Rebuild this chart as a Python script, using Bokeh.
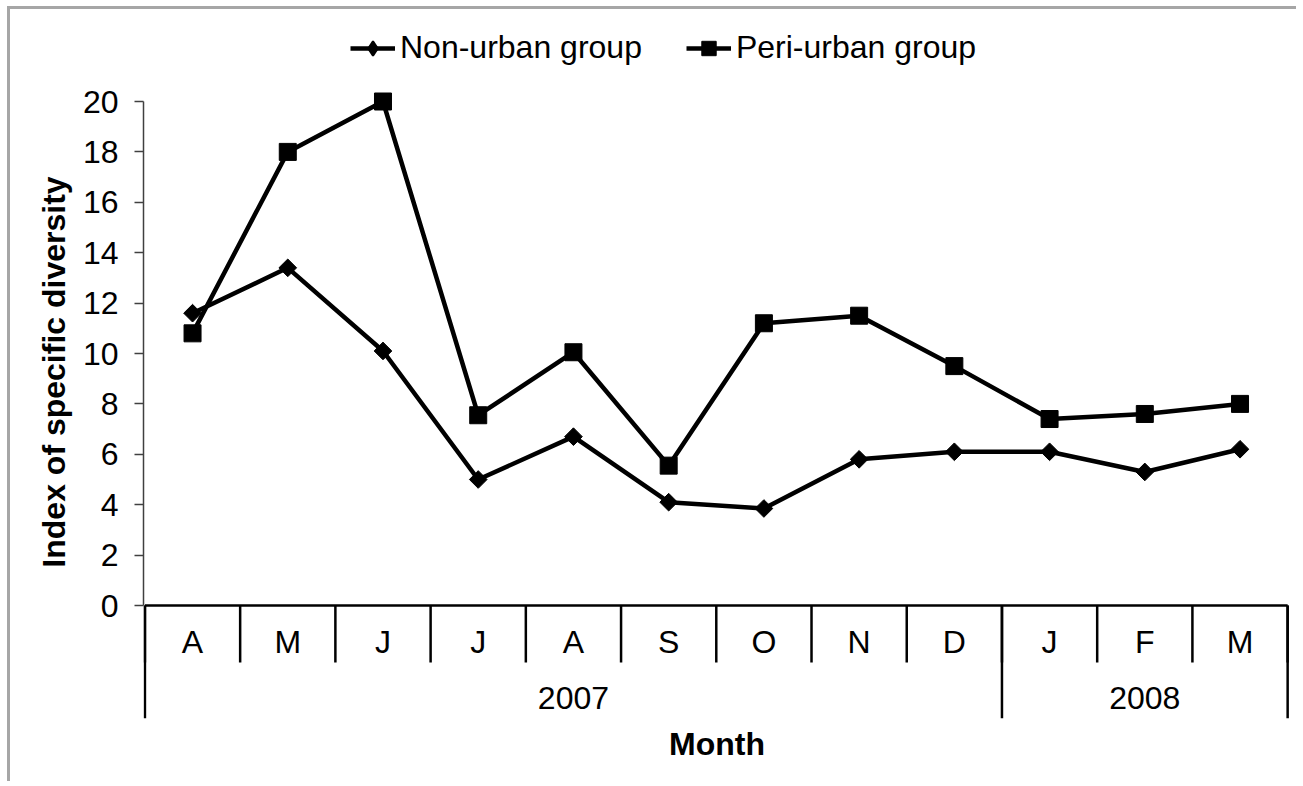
import math
from bokeh.plotting import figure
from bokeh.models import (Range1d, SingleIntervalTicker, FixedTicker, Legend, LegendItem,
                          ColumnDataSource)
from bokeh.embed import file_html
from bokeh.resources import INLINE
from bokeh.core.properties import value

# ---------------- data ----------------
months = ["A", "M", "J", "J", "A", "S", "O", "N", "D", "J", "F", "M"]
years = ["2007", "2008"]
months_per_year = [9, 3]
non_urban = [11.6, 13.4, 10.1, 5.0, 6.7, 4.1, 3.85, 5.8, 6.1, 6.1, 5.3, 6.2]
peri_urban = [10.8, 18.0, 20.0, 7.55, 10.05, 5.55, 11.2, 11.5, 9.5, 7.4, 7.6, 8.0]
y_tick_step = 2
y_max = 20

FONT = "Liberation Sans"
FS = "32px"

# ---------------- layout constants ----------------
MONTH_ROW = 2.26      # depth of the month row below zero (data units)
Y_START = -4.484
Y_END = 23.016
MONTH_LABEL_Y = -1.43
YEAR_LABEL_Y = -3.69

n = len(months)
xc = [i + 0.5 for i in range(n)]

p = figure(width=1289, height=775, output_backend="svg", toolbar_location=None,
           x_range=Range1d(-0.015, n + 0.03), y_range=Range1d(Y_START, Y_END),
           min_border_left=133, min_border_right=9, min_border_top=16, min_border_bottom=66,
           background_fill_color="white", border_fill_color="white")
p.styles = {"margin-left": "7px", "margin-top": "6px",
            "border-top": "3px solid #a6a6a6", "border-left": "3px solid #a6a6a6"}
p.outline_line_color = None
p.grid.visible = False

# y axis
ya = p.yaxis[0]
ya.bounds = (0, y_max)
ya.ticker = SingleIntervalTicker(interval=y_tick_step, num_minor_ticks=0)
ya.major_tick_out = 9
ya.major_tick_in = 0
ya.minor_tick_out = 0
ya.minor_tick_in = 0
ya.axis_line_color = "#404040"
ya.axis_line_width = 1.5
ya.major_tick_line_color = "#404040"
ya.major_tick_line_width = 1.5
ya.major_label_text_font = FONT
ya.major_label_text_font_size = FS
ya.major_label_text_color = "black"
ya.major_label_standoff = 16
ya.axis_label = "Index of specific diversity"
ya.axis_label_text_font = FONT
ya.axis_label_text_font_size = FS
ya.axis_label_text_font_style = "bold"
ya.axis_label_text_color = "black"
ya.axis_label_standoff = 8

# x axis: only the title
xa = p.xaxis[0]
xa.ticker = FixedTicker(ticks=[])
xa.axis_line_color = None
xa.major_tick_out = 0
xa.minor_tick_out = 0
xa.axis_label = "Month"
xa.axis_label_text_font = FONT
xa.axis_label_text_font_size = FS
xa.axis_label_text_font_style = "bold"
xa.axis_label_text_color = "black"
xa.axis_label_standoff = 7

# ---------------- category table ----------------
bounds_m = list(range(n + 1))
p.segment(x0=bounds_m, y0=[0] * len(bounds_m), x1=bounds_m, y1=[-MONTH_ROW] * len(bounds_m),
          line_color="black", line_width=2.5)
yb = [0]
for c in months_per_year:
    yb.append(yb[-1] + c)
p.segment(x0=yb, y0=[0] * len(yb), x1=yb, y1=[Y_START] * len(yb),
          line_color="black", line_width=2.5)
p.segment(x0=[0], y0=[0], x1=[n], y1=[0], line_color="black", line_width=2.5)

p.text(x=xc, y=[MONTH_LABEL_Y] * n, text=months, text_font=value(FONT),
       text_font_size=value(FS), text_align="center", text_baseline="middle", text_color="black")
year_x = [(yb[i] + yb[i + 1]) / 2 for i in range(len(years))]
p.text(x=year_x, y=[YEAR_LABEL_Y] * len(years), text=years, text_font=value(FONT),
       text_font_size=value(FS), text_align="center", text_baseline="middle", text_color="black")

# ---------------- series ----------------
src = ColumnDataSource(dict(x=xc, nu=non_urban, pu=peri_urban))
l1 = p.line("x", "nu", source=src, line_color="black", line_width=4.5)
# small diamond used for the legend swatch; hidden under the rotated squares in the plot
d1 = p.scatter("x", "nu", source=src, marker="diamond", size=12,
               fill_color="black", line_color="black", line_width=2)
s1 = p.scatter("x", "nu", source=src, marker="square", angle=math.pi / 4, size=12.5,
               fill_color="black", line_color="black")
l2 = p.line("x", "pu", source=src, line_color="black", line_width=4.5)
s2 = p.scatter("x", "pu", source=src, marker="square", size=17,
               fill_color="black", line_color="black")

legend = Legend(items=[LegendItem(label="Non-urban group", renderers=[l1, d1]),
                       LegendItem(label="Peri-urban group", renderers=[l2, s2])],
                orientation="horizontal", location=(207, 652),
                glyph_width=45, glyph_height=36, label_standoff=5, spacing=44,
                padding=0, margin=0,
                label_text_font=FONT, label_text_font_size=FS, label_text_color="black",
                border_line_color=None, background_fill_alpha=0)
p.add_layout(legend)

open("out.html", "w").write(file_html(p, INLINE))
